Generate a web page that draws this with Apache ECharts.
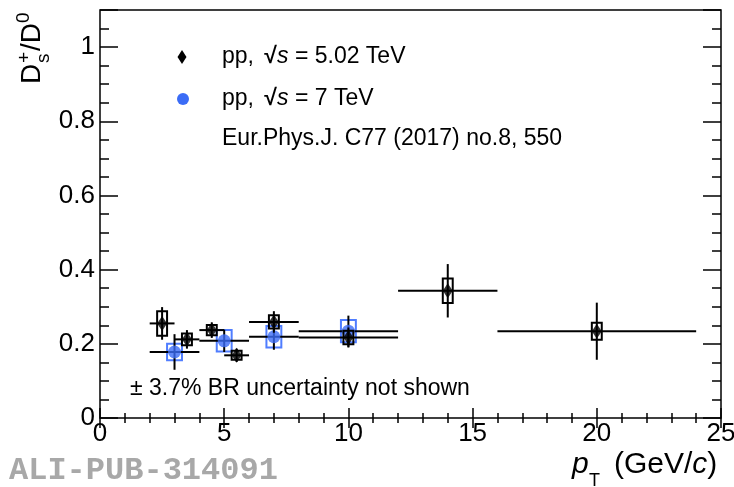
<!DOCTYPE html>
<html>
<head>
<meta charset="utf-8">
<script src="https://cdn.jsdelivr.net/npm/echarts@6/dist/echarts.min.js"></script>
<style>
  html, body { margin: 0; padding: 0; background: #fff; }
  #chart { width: 734px; height: 487px; }
</style>
</head>
<body>
<div id="chart"></div>
<script>
// pp 5.02 TeV (black diamonds)
const pt502 = [2.5, 3.5, 4.5, 5.5, 7, 10, 14, 20]
const ptLo502 = [2, 3, 4, 5, 6, 8, 12, 16]
const ptHi502 = [3, 4, 5, 6, 8, 12, 16, 24]
const ratio502 = [0.255, 0.212, 0.237, 0.169, 0.259, 0.217, 0.343, 0.234]
const stat502 = [0.044, 0.025, 0.021, 0.018, 0.029, 0.027, 0.072, 0.077]
const syst502 = [0.033, 0.016, 0.014, 0.012, 0.018, 0.018, 0.033, 0.023]

// pp 7 TeV (blue circles)
const pt7 = [3, 5, 7, 10]
const ptLo7 = [2, 4, 6, 8]
const ptHi7 = [4, 6, 8, 12]
const ratio7 = [0.178, 0.208, 0.219, 0.234]
const stat7 = [0.048, 0.030, 0.035, 0.042]
const syst7 = [0.022, 0.029, 0.029, 0.030]

const xTicks = { min: 0, max: 25, major: 5, minor: 1 }
const yTicks = { min: 0, max: 1.1, major: 0.2, minor: 0.05 }

const FONT = 'Liberation Sans, Arial, Helvetica, sans-serif'
const BLUE = '#3b6cf6'
const BLUE_BOX = '#4f7dff'

const chart = echarts.init(document.getElementById('chart'), null, { renderer: 'canvas' })

function statItems(pt, lo, hi, val, err) {
  return pt.map((p, i) => [p, val[i], lo[i], hi[i], err[i]])
}
function systItems(pt, val, err) {
  return pt.map((p, i) => [p, val[i], err[i]])
}

function renderStat(params, api) {
  const x = api.value(0), y = api.value(1)
  const lo = api.value(2), hi = api.value(3), e = api.value(4)
  const a = api.coord([lo, y]), b = api.coord([hi, y])
  const c = api.coord([x, y - e]), d = api.coord([x, y + e])
  const style = { stroke: '#000', lineWidth: 2 }
  return {
    type: 'group',
    children: [
      { type: 'line', shape: { x1: a[0], y1: a[1], x2: b[0], y2: b[1] }, style },
      { type: 'line', shape: { x1: c[0], y1: c[1], x2: d[0], y2: d[1] }, style }
    ]
  }
}

function makeBoxRenderer(halfWidth, color) {
  return function (params, api) {
    const x = api.value(0), y = api.value(1), e = api.value(2)
    const tl = api.coord([x - halfWidth, y + e])
    const br = api.coord([x + halfWidth, y - e])
    return {
      type: 'rect',
      shape: { x: tl[0], y: tl[1], width: br[0] - tl[0], height: br[1] - tl[1] },
      style: { fill: 'none', stroke: color, lineWidth: 2 }
    }
  }
}

const labelStyle = { color: '#000', fontFamily: FONT }

const option = {
  animation: false,
  backgroundColor: '#fff',
  grid: {
    left: 100, top: 10, width: 621, height: 408,
    outerBoundsMode: 'none', containLabel: false,
    show: true, borderColor: '#000', borderWidth: 1.5, backgroundColor: 'transparent'
  },
  xAxis: [
    {
      type: 'value', position: 'bottom', min: xTicks.min, max: xTicks.max, interval: xTicks.major,
      axisLine: { show: false },
      axisTick: { inside: true, length: 10, lineStyle: { color: '#000', width: 1.5 } },
      minorTick: { show: true, splitNumber: xTicks.major / xTicks.minor, length: 5, lineStyle: { color: '#000', width: 1.5 } },
      axisLabel: { ...labelStyle, fontSize: 26, margin: 3 },
      splitLine: { show: false }
    },
    {
      type: 'value', position: 'top', min: xTicks.min, max: xTicks.max, interval: xTicks.major,
      axisLine: { show: false },
      axisTick: { inside: true, length: 10, lineStyle: { color: '#000', width: 1.5 } },
      minorTick: { show: true, splitNumber: xTicks.major / xTicks.minor, length: 5, lineStyle: { color: '#000', width: 1.5 } },
      axisLabel: { show: false },
      splitLine: { show: false }
    }
  ],
  yAxis: [
    {
      type: 'value', position: 'left', min: yTicks.min, max: yTicks.max, interval: yTicks.major,
      axisLine: { show: false },
      axisTick: { inside: true, length: 18, lineStyle: { color: '#000', width: 1.5 } },
      axisLabel: {
        ...labelStyle, fontSize: 26, margin: 5,
        formatter: v => (v > 1.01 ? '' : String(Math.round(v * 10) / 10))
      },
      splitLine: { show: false }
    },
    {
      type: 'value', position: 'left', min: yTicks.min, max: yTicks.max, interval: yTicks.minor,
      axisLine: { show: false },
      axisTick: { inside: true, length: 9, lineStyle: { color: '#000', width: 1.5 } },
      axisLabel: { show: false },
      splitLine: { show: false }
    },
    {
      type: 'value', position: 'right', min: yTicks.min, max: yTicks.max, interval: yTicks.major,
      axisLine: { show: false },
      axisTick: { inside: true, length: 18, lineStyle: { color: '#000', width: 1.5 } },
      axisLabel: { show: false },
      splitLine: { show: false }
    },
    {
      type: 'value', position: 'right', min: yTicks.min, max: yTicks.max, interval: yTicks.minor,
      axisLine: { show: false },
      axisTick: { inside: true, length: 9, lineStyle: { color: '#000', width: 1.5 } },
      axisLabel: { show: false },
      splitLine: { show: false }
    }
  ],
  series: [
    {
      name: 'syst 7 TeV', type: 'custom', renderItem: makeBoxRenderer(0.3, BLUE_BOX),
      data: systItems(pt7, ratio7, syst7), z: 2
    },
    {
      name: 'stat 7 TeV', type: 'custom', renderItem: renderStat,
      data: statItems(pt7, ptLo7, ptHi7, ratio7, stat7), z: 2
    },
    {
      name: 'pp, √s = 7 TeV', type: 'scatter', symbol: 'circle', symbolSize: 13,
      itemStyle: { color: BLUE }, data: pt7.map((p, i) => [p, ratio7[i]]), z: 3
    },
    {
      name: 'syst 5.02 TeV', type: 'custom', renderItem: makeBoxRenderer(0.2, '#000'),
      data: systItems(pt502, ratio502, syst502), z: 4
    },
    {
      name: 'stat 5.02 TeV', type: 'custom', renderItem: renderStat,
      data: statItems(pt502, ptLo502, ptHi502, ratio502, stat502), z: 4
    },
    {
      name: 'pp, √s = 5.02 TeV', type: 'scatter', symbol: 'diamond', symbolSize: [10, 15],
      itemStyle: { color: '#000' }, data: pt502.map((p, i) => [p, ratio502[i]]), z: 5
    }
  ],
  graphic: [
    // legend
    {
      type: 'polygon', shape: { points: [[182, 50], [186.5, 57], [182, 64], [177.5, 57]] },
      style: { fill: '#000' }
    },
    { type: 'circle', shape: { cx: 183, cy: 99, r: 6 }, style: { fill: BLUE } },
    {
      type: 'text', x: 222, y: 57,
      style: {
        text: '{n|pp, }{r|√}{i|s}{n| = 5.02 TeV}', verticalAlign: 'middle', fill: '#000',
        rich: {
          n: { fontFamily: FONT, fontSize: 23 },
          r: { fontFamily: FONT, fontSize: 23, fontWeight: 'bold', padding: [0, 0, 0, 4] },
          i: { fontFamily: FONT, fontSize: 23, fontStyle: 'italic' }
        }
      }
    },
    {
      type: 'text', x: 222, y: 99,
      style: {
        text: '{n|pp, }{r|√}{i|s}{n| = 7 TeV}', verticalAlign: 'middle', fill: '#000',
        rich: {
          n: { fontFamily: FONT, fontSize: 23 },
          r: { fontFamily: FONT, fontSize: 23, fontWeight: 'bold', padding: [0, 0, 0, 4] },
          i: { fontFamily: FONT, fontSize: 23, fontStyle: 'italic' }
        }
      }
    },
    {
      type: 'text', x: 222, y: 139,
      style: { text: 'Eur.Phys.J. C77 (2017) no.8, 550', fontFamily: FONT, fontSize: 23, fill: '#000', verticalAlign: 'middle' }
    },
    {
      type: 'text', x: 130, y: 389,
      style: { text: '± 3.7% BR uncertainty not shown', fontFamily: FONT, fontSize: 23, fill: '#000', verticalAlign: 'middle' }
    },
    // x-axis title
    {
      type: 'text', x: 572, y: 480,
      style: { text: 'p', fontFamily: FONT, fontSize: 30, fontStyle: 'italic', fill: '#000', verticalAlign: 'bottom' }
    },
    {
      type: 'text', x: 589, y: 490,
      style: { text: 'T', fontFamily: FONT, fontSize: 18, fill: '#000', verticalAlign: 'bottom' }
    },
    {
      type: 'text', x: 614, y: 480,
      style: {
        text: '{n|(GeV/}{i|c}{n|)}', verticalAlign: 'bottom', fill: '#000',
        rich: {
          n: { fontFamily: FONT, fontSize: 30 },
          i: { fontFamily: FONT, fontSize: 30, fontStyle: 'italic' }
        }
      }
    },
    // y-axis title, rotated
    {
      type: 'group', x: 46, y: 84, rotation: Math.PI / 2,
      children: [
        { type: 'text', x: 0, y: 0, style: { text: 'D', fontFamily: FONT, fontSize: 28, fill: '#000', verticalAlign: 'bottom' } },
        { type: 'text', x: 21, y: 7, style: { text: 's', fontFamily: FONT, fontSize: 19, fill: '#000', verticalAlign: 'bottom' } },
        { type: 'text', x: 21, y: -12, style: { text: '+', fontFamily: FONT, fontSize: 19, fill: '#000', verticalAlign: 'bottom' } },
        { type: 'text', x: 33, y: 0, style: { text: '/D', fontFamily: FONT, fontSize: 28, fill: '#000', verticalAlign: 'bottom' } },
        { type: 'text', x: 61, y: -13, style: { text: '0', fontFamily: FONT, fontSize: 19, fill: '#000', verticalAlign: 'bottom' } }
      ]
    },
    // watermark
    {
      type: 'text', x: 9, y: 471,
      style: { text: 'ALI-PUB-314091', fontFamily: 'Liberation Mono, Courier New, monospace', fontWeight: 'bold', fontSize: 32, fill: '#a8a8a8', verticalAlign: 'middle' }
    }
  ]
}

chart.setOption(option)
</script>
</body>
</html>
